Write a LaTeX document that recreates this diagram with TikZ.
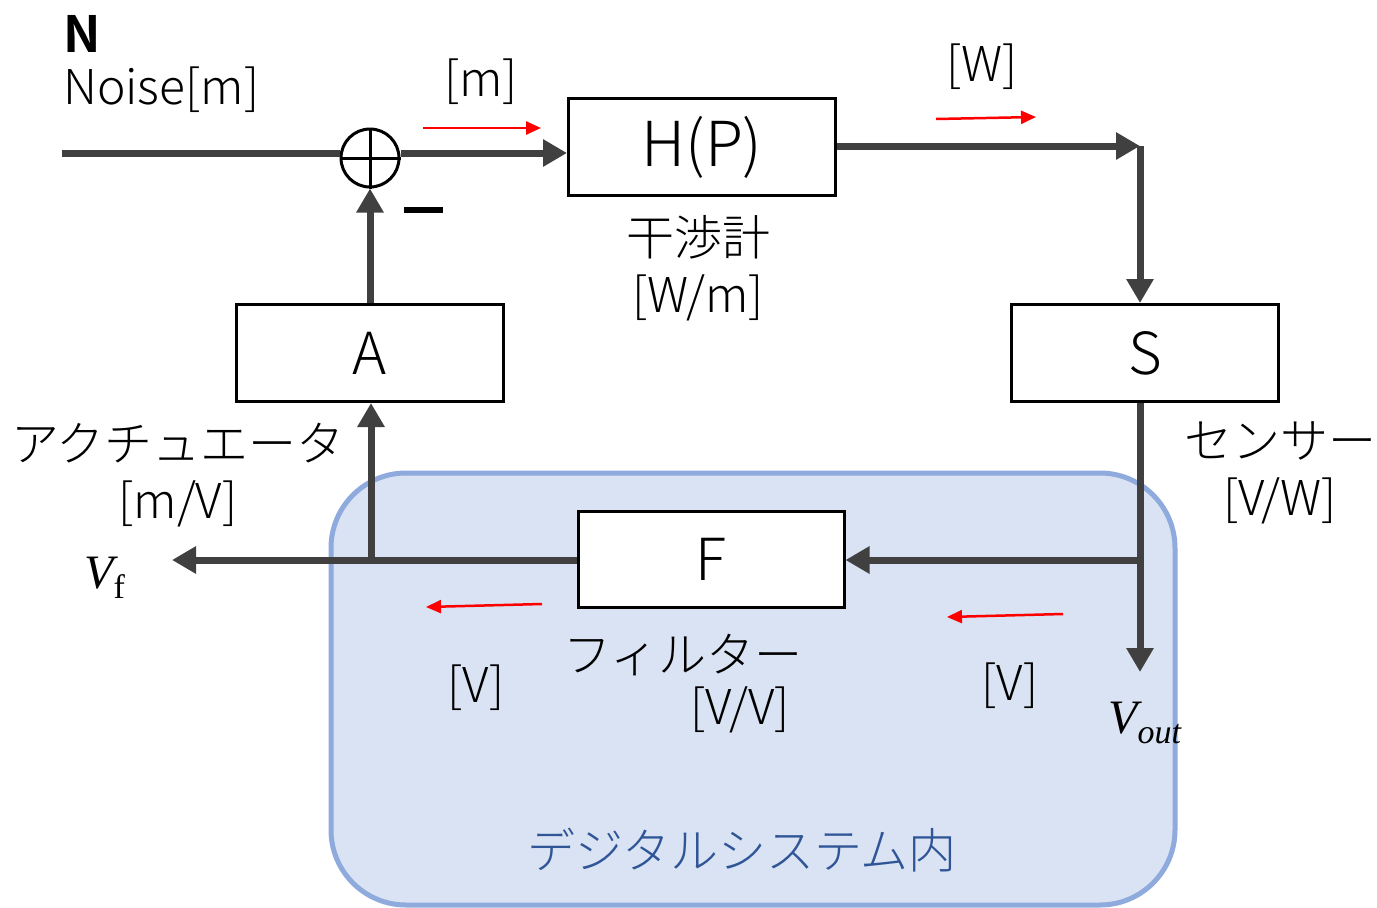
\documentclass[tikz,border=0pt]{standalone}
\usepackage{fontspec}
\setmainfont{Noto Sans CJK JP}[UprightFont=* Light, BoldFont=* Bold]
\newfontfamily\varfont{Liberation Serif}
\usetikzlibrary{arrows.meta}
\definecolor{ln}{HTML}{404040}
\definecolor{dsfill}{HTML}{DAE3F3}
\definecolor{dsdraw}{HTML}{8FAADC}
\definecolor{dstext}{HTML}{2F5597}
\tikzset{
  blk/.style={draw=black, line width=3pt, fill=white, minimum width=267pt, minimum height=97pt, inner sep=0pt, font=\fontsize{62}{64}\selectfont},
  conn/.style={draw=ln, line width=7pt},
  arr/.style={conn, -{Triangle[length=24pt,width=26pt]}},
  red/.style={draw=red, line width=2.5pt, -{Triangle[length=15pt,width=13pt]}},
  lbl/.style={inner sep=0pt, align=center, font=\fontsize{48}{57}\selectfont},
  var/.style={inner sep=0pt, font=\fontsize{48}{50}\selectfont\varfont\itshape},
}
\begin{document}
\begin{tikzpicture}[x=1pt,y=-1pt]
\useasboundingbox (0,0) rectangle (1377,908);
% digital system region
\draw[draw=dsdraw, fill=dsfill, line width=5pt, rounded corners=75pt] (331,473) rectangle (1175,905);
\node[lbl, text=dstext] (ds) at (742,850) {デジタルシステム内};

% blocks
\node[blk] (H) at (702,147) {H(P)};
\node[blk, font=\fontsize{58}{60}\selectfont] (A) at (370,353) {A};
\node[blk, font=\fontsize{58}{60}\selectfont] (S) at (1145,353) {S};
\node[blk, minimum width=266pt, minimum height=96pt, font=\fontsize{58}{60}\selectfont] (F) at (711,559) {F};

% summing junction
\node[circle, draw=black, line width=3pt, fill=white, minimum size=58pt, inner sep=0pt] (sum) at (370,158) {};
\draw[line width=3pt] (sum.north) -- (sum.south) (sum.west) -- (sum.east);
\draw[line width=6pt] (404,210) -- (443,210);

% coordinates
\coordinate (in) at (62,153);
\coordinate (c1) at (1140,146);
\coordinate (c2) at (1140,560);
\coordinate (vo) at (1140,672);
\coordinate (vf) at (172,560);
\coordinate (c3) at (371,560);

% connectors
\draw[conn] (in) -- (in -| sum.west);
\draw[arr] (sum.east |- in) -- (H.west |- in);
\draw[arr] (H.east |- c1) -- (c1);
\draw[arr] (c1) -- (c1 |- S.north);
\draw[arr] (c1 |- S.south) -- (vo);
\draw[arr] (c2) -- (F.east |- c2);
\draw[arr] (F.west |- c2) -- (vf);
\draw[arr] (c3) -- (c3 |- A.south);
\draw[arr] (A.north) -- (sum.south);

% red signal-direction arrows
\coordinate (r1a) at (423,128); \coordinate (r1b) at (541,128);
\coordinate (r2a) at (936,119); \coordinate (r2b) at (1036,117);
\coordinate (r3a) at (542,604); \coordinate (r3b) at (426,607);
\coordinate (r4a) at (1063,614); \coordinate (r4b) at (947,617);
\draw[red] (r1a) -- (r1b);
\draw[red] (r2a) -- (r2b);
\draw[red] (r3a) -- (r3b);
\draw[red] (r4a) -- (r4b);

% labels
\node[lbl, font=\fontsize{50}{52}\selectfont\bfseries, anchor=west] (N) at (63,34) {N};
\node[lbl, anchor=west] (noise) at (63,90) {Noise[m]};
\node[lbl] (lm) at (481,82) {[m]};
\node[lbl] (lw) at (982,67) {[W]};
\node[lbl] (ifm) at (698,268) {干渉計\\{}[W/m]};
\node[lbl] (act) at (178,475) {アクチュエータ\\{}[m/V]};
\node[lbl] (sen) at (1280,473) {センサー\\{}[V/W]};
\node[lbl, anchor=west] (fil) at (563,655) {フィルター};
\node[lbl] (fvv) at (740,710) {[V/V]};
\node[lbl] (lv1) at (476,688) {[V]};
\node[lbl] (lv2) at (1010,686) {[V]};
\node[var, anchor=base west] (vft) at (84,588) {V\raisebox{-0.22em}{\fontsize{34}{36}\selectfont\upshape f}};
\node[var, anchor=base west] (vot) at (1108,733) {V\raisebox{-0.22em}{\fontsize{34}{36}\selectfont out}};
\end{tikzpicture}
\end{document}
